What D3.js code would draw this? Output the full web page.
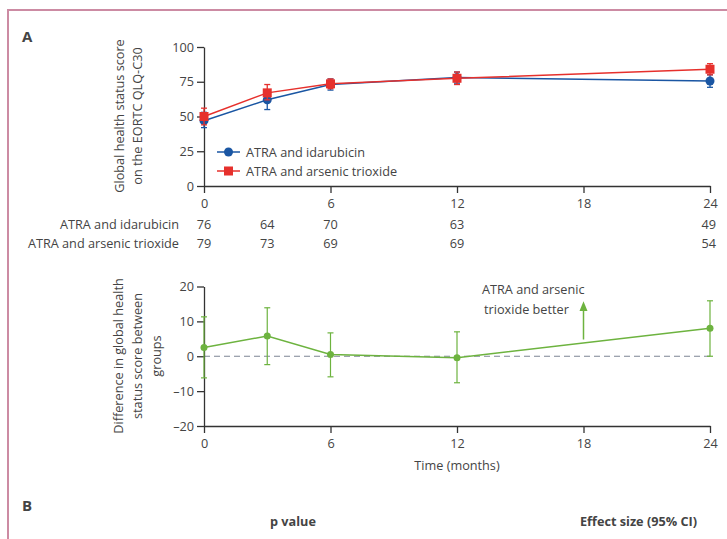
<!DOCTYPE html>
<html>
<head>
<meta charset="utf-8">
<script src="https://cdn.jsdelivr.net/npm/d3@7"></script>
<style>
  body { margin: 0; background: #fff; }
  svg text { font-family: "Open Sans", "Noto Sans", sans-serif; fill: #444; }
</style>
</head>
<body>
<div id="chart"></div>
<script>
'use strict';

// months of follow-up
const months = [0, 3, 6, 12, 24];
const monthTicks = [0, 6, 12, 18, 24];

// global health status score (mean, lower, upper)
const idaMean = [47, 62, 73, 78, 75.5];
const idaLow = [42, 55, 69, 74, 71];
const idaHigh = [53, 68, 77, 82, 80];

const atoMean = [50, 67, 73.5, 77.5, 84];
const atoLow = [44, 62, 70, 73, 80];
const atoHigh = [56, 73, 77, 82, 88];

// patients at risk
const idaN = [76, 64, 70, 63, 49];
const atoN = [79, 73, 69, 69, 54];

// difference between groups
const diffMean = [2.5, 5.8, 0.5, -0.4, 8];
const diffLow = [-6.2, -2.4, -5.9, -7.6, 0];
const diffHigh = [11.3, 13.9, 6.7, 7, 15.9];

const topTicks = [0, 25, 50, 75, 100];
const bottomTicks = [-20, -10, 0, 10, 20];

const W = 727, H = 539;
const blue = "#1a56a3", red = "#e6302c", green = "#6db33f", axisCol = "#333";
const fs = "12.7px";

const svg = d3.select("#chart").append("svg")
    .attr("width", W).attr("height", H);

// pink frame
svg.append("path")
    .attr("d", "M8,545 L8,10 L735,10")
    .attr("fill", "none").attr("stroke", "#cc8ba3").attr("stroke-width", 2);

const x = d3.scaleLinear().domain([0, 24]).range([204, 710]);
const yTop = d3.scaleLinear().domain([0, 100]).range([186, 47]);
const yBot = d3.scaleLinear().domain([-20, 20]).range([426, 286.5]);

const styleAxis = (g) => {
    g.selectAll("path, line").attr("stroke", axisCol).attr("stroke-width", 1.3);
    g.selectAll("text").style("font-size", fs).attr("fill", "#444");
};

// ---------- panel A ----------
svg.append("g").attr("transform", "translate(204,0)")
    .call(d3.axisLeft(yTop).tickValues(topTicks).tickSize(7).tickSizeOuter(0).tickPadding(3))
    .call(styleAxis);
svg.append("g").attr("transform", "translate(0,186)")
    .call(d3.axisBottom(x).tickValues(monthTicks).tickSize(7).tickSizeOuter(0).tickPadding(6))
    .call(styleAxis);

const yLabTop = svg.append("text")
    .attr("transform", "translate(124,116) rotate(-90)")
    .attr("text-anchor", "middle").style("font-size", fs);
yLabTop.append("tspan").attr("x", 0).attr("dy", 0).text("Global health status score");
yLabTop.append("tspan").attr("x", 0).attr("dy", 18).text("on the EORTC QLQ-C30");

const drawSeries = (mean, low, high, color, shape) => {
    const line = d3.line().x((d, i) => x(months[i])).y(d => yTop(d));
    svg.append("path").datum(mean).attr("d", line)
        .attr("fill", "none").attr("stroke", color).attr("stroke-width", 1.5);
    const g = svg.append("g");
    months.forEach((m, i) => {
        g.append("line").attr("x1", x(m)).attr("x2", x(m))
            .attr("y1", yTop(low[i])).attr("y2", yTop(high[i]))
            .attr("stroke", color).attr("stroke-width", 1.3);
        [low[i], high[i]].forEach(v => {
            g.append("line").attr("x1", x(m) - 3).attr("x2", x(m) + 3)
                .attr("y1", yTop(v)).attr("y2", yTop(v))
                .attr("stroke", color).attr("stroke-width", 1.3);
        });
        if (shape === "circle") {
            g.append("circle").attr("cx", x(m)).attr("cy", yTop(mean[i])).attr("r", 4.5).attr("fill", color);
        } else {
            g.append("rect").attr("x", x(m) - 4.5).attr("y", yTop(mean[i]) - 4.5)
                .attr("width", 9).attr("height", 9).attr("fill", color);
        }
    });
};
drawSeries(idaMean, idaLow, idaHigh, blue, "circle");
drawSeries(atoMean, atoLow, atoHigh, red, "square");

// legend
const legend = [
    { label: "ATRA and idarubicin", color: blue, shape: "circle", y: 152 },
    { label: "ATRA and arsenic trioxide", color: red, shape: "square", y: 171 }
];
legend.forEach(l => {
    svg.append("line").attr("x1", 217).attr("x2", 240).attr("y1", l.y).attr("y2", l.y)
        .attr("stroke", l.color).attr("stroke-width", 1.5);
    if (l.shape === "circle") {
        svg.append("circle").attr("cx", 228.5).attr("cy", l.y).attr("r", 4.5).attr("fill", l.color);
    } else {
        svg.append("rect").attr("x", 224).attr("y", l.y - 4.5).attr("width", 9).attr("height", 9).attr("fill", l.color);
    }
    svg.append("text").attr("x", 246).attr("y", l.y + 4.5).style("font-size", fs).text(l.label);
});

// numbers at risk
const risk = [
    { label: "ATRA and idarubicin", values: idaN, y: 229 },
    { label: "ATRA and arsenic trioxide", values: atoN, y: 248 }
];
risk.forEach(r => {
    svg.append("text").attr("x", 179).attr("y", r.y).attr("text-anchor", "end")
        .style("font-size", fs).text(r.label);
    r.values.forEach((v, i) => {
        svg.append("text").attr("x", x(months[i]) + (i === 4 ? 6 : 0)).attr("y", r.y)
            .attr("text-anchor", i === 4 ? "end" : "middle")
            .style("font-size", fs).text(v);
    });
});

// ---------- difference panel ----------
svg.append("line").attr("x1", x(0)).attr("x2", x(24))
    .attr("y1", yBot(0)).attr("y2", yBot(0))
    .attr("stroke", "#7d8594").attr("stroke-width", 1.2).attr("stroke-dasharray", "6,4");

svg.append("g").attr("transform", "translate(204,0)")
    .call(d3.axisLeft(yBot).tickValues(bottomTicks).tickSize(7).tickSizeOuter(0).tickPadding(3)
        .tickFormat(d => d < 0 ? "\u2013" + Math.abs(d) : d))
    .call(styleAxis);
svg.append("g").attr("transform", "translate(0,426)")
    .call(d3.axisBottom(x).tickValues(monthTicks).tickSize(7).tickSizeOuter(0).tickPadding(6))
    .call(styleAxis);

const diffLine = d3.line().x((d, i) => x(months[i])).y(d => yBot(d));
svg.append("path").datum(diffMean).attr("d", diffLine)
    .attr("fill", "none").attr("stroke", green).attr("stroke-width", 1.5);
months.forEach((m, i) => {
    svg.append("line").attr("x1", x(m)).attr("x2", x(m))
        .attr("y1", yBot(diffLow[i])).attr("y2", yBot(diffHigh[i]))
        .attr("stroke", green).attr("stroke-width", 1.2);
    [diffLow[i], diffHigh[i]].forEach(v => {
        svg.append("line").attr("x1", x(m) - 3).attr("x2", x(m) + 3)
            .attr("y1", yBot(v)).attr("y2", yBot(v))
            .attr("stroke", green).attr("stroke-width", 1.2);
    });
    svg.append("circle").attr("cx", x(m)).attr("cy", yBot(diffMean[i])).attr("r", 3.5).attr("fill", green);
});

// arrow annotation
svg.append("line").attr("x1", x(18)).attr("x2", x(18))
    .attr("y1", yBot(4.8)).attr("y2", yBot(13.5))
    .attr("stroke", green).attr("stroke-width", 1.5);
svg.append("path")
    .attr("d", `M${x(18) - 4},${yBot(13)} L${x(18)},${yBot(15.8)} L${x(18) + 4},${yBot(13)} Z`)
    .attr("fill", green);
svg.append("text").attr("x", 482).attr("y", 294).style("font-size", fs).text("ATRA and arsenic");
svg.append("text").attr("x", 484).attr("y", 314).style("font-size", fs).text("trioxide better");

const yLabBot = svg.append("text")
    .attr("transform", "translate(123,356) rotate(-90)")
    .attr("text-anchor", "middle").style("font-size", fs);
yLabBot.append("tspan").attr("x", 0).attr("dy", 0).text("Difference in global health");
yLabBot.append("tspan").attr("x", 0).attr("dy", 19).text("status score between");
yLabBot.append("tspan").attr("x", 0).attr("dy", 19).text("groups");

svg.append("text").attr("x", x(12)).attr("y", 470).attr("text-anchor", "middle")
    .style("font-size", fs).text("Time (months)");

// ---------- panel letters and B header ----------
svg.append("text").attr("x", 22).attr("y", 42).style("font-size", "15px")
    .style("font-weight", "bold").attr("fill", "#222").text("A");
svg.append("text").attr("x", 22).attr("y", 511).style("font-size", "15px")
    .style("font-weight", "bold").attr("fill", "#222").text("B");
svg.append("text").attr("x", 270).attr("y", 526).style("font-size", fs)
    .style("font-weight", "bold").attr("fill", "#333").text("p value");
svg.append("text").attr("x", 697).attr("y", 526).attr("text-anchor", "end").style("font-size", fs)
    .style("font-weight", "bold").attr("fill", "#333").text("Effect size (95% CI)");
</script>
</body>
</html>
